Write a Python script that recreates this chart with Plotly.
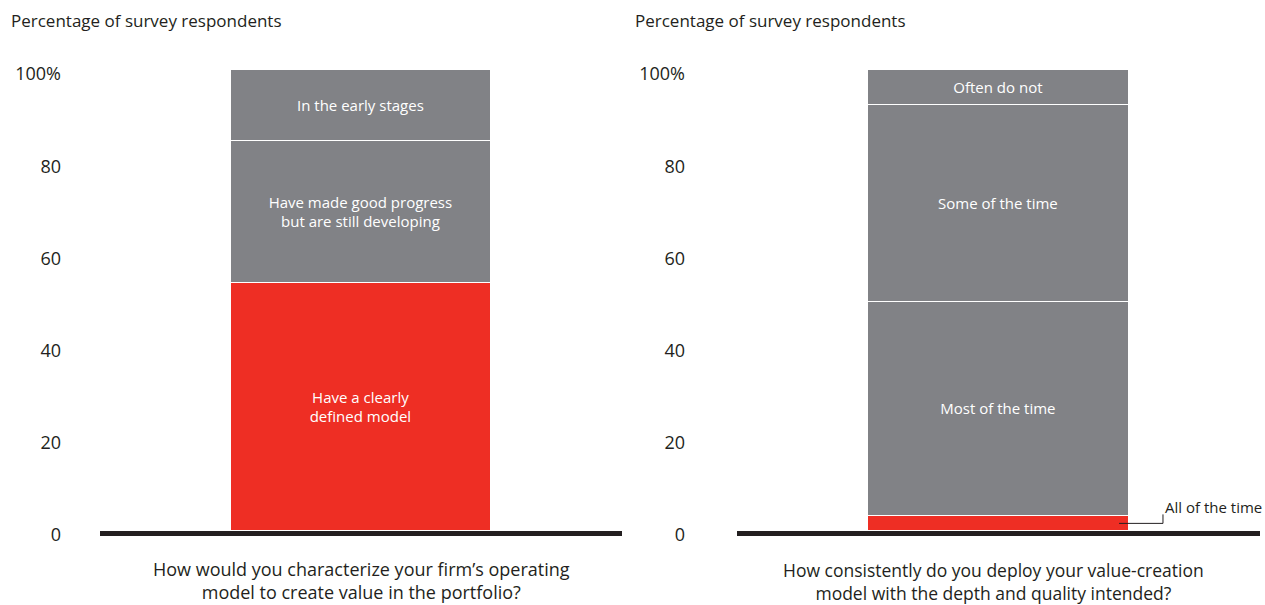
import plotly.graph_objects as go

# ---- data ----
left_segments = ["Have a clearly<br>defined model",
                 "Have made good progress<br>but are still developing",
                 "In the early stages"]
left_values = [53.7, 31.0, 15.3]
left_colors = ["#EE2E24", "#818286", "#818286"]

right_segments = ["All of the time", "Most of the time", "Some of the time", "Often do not"]
right_values = [3.3, 46.4, 42.8, 7.5]
right_colors = ["#EE2E24", "#818286", "#818286", "#818286"]

tick_vals = [0, 20, 40, 60, 80, 100]
tick_text = ["0", "20", "40", "60", "80", "100%"]

y_title = "Percentage of survey respondents"
left_question = "How would you characterize your firm’s operating<br>model to create value in the portfolio?"
right_question = "How consistently do you deploy your value-creation<br>model with the depth and quality intended?"

FONT = "'Open Sans', 'Noto Sans', sans-serif"
DARK = "#231F20"
W, H = 1265, 605

fig = go.Figure()

for lab, val, col in zip(left_segments, left_values, left_colors):
    fig.add_trace(go.Bar(
        x=[0], y=[val], width=0.996, marker=dict(color=col, line=dict(color="white", width=1.2)),
        text=[lab], textposition="inside", insidetextanchor="middle", constraintext="none",
        textfont=dict(color="white", size=15, family=FONT), hoverinfo="skip",
        xaxis="x", yaxis="y", showlegend=False))

for i, (lab, val, col) in enumerate(zip(right_segments, right_values, right_colors)):
    txt = "" if i == 0 else lab
    fig.add_trace(go.Bar(
        x=[0], y=[val], width=0.998, marker=dict(color=col, line=dict(color="white", width=1.2)),
        text=[txt], textposition="inside", insidetextanchor="middle", constraintext="none",
        textfont=dict(color="white", size=15, family=FONT), hoverinfo="skip",
        xaxis="x2", yaxis="y2", showlegend=False))

def px_x(p):
    return p / W

ydom = [(H - 531) / H, (H - 70) / H]

common_x = dict(range=[-1, 1], showgrid=False, zeroline=False, showticklabels=False,
                showline=False, fixedrange=True, automargin=False)
common_y = dict(range=[0, 100], showgrid=False, zeroline=False, showline=False, tickmode="array",
                tickvals=tick_vals, ticktext=tick_text, ticks="", domain=ydom, automargin=False,
                tickfont=dict(size=18, color=DARK, family=FONT), ticklabelshift=4, fixedrange=True)

fig.update_layout(
    width=W, height=H, autosize=False, margin=dict(l=0, r=0, t=0, b=0, pad=0, autoexpand=False),
    paper_bgcolor="white", plot_bgcolor="white", barmode="stack", bargap=0,
    font=dict(family=FONT, color=DARK),
    xaxis=dict(domain=[px_x(100), px_x(622)], anchor="y", **common_x),
    yaxis=dict(anchor="x", ticklabelstandoff=38, **common_y),
    xaxis2=dict(domain=[px_x(737), px_x(1260)], anchor="y2", **common_x),
    yaxis2=dict(anchor="x2", ticklabelstandoff=51, **common_y),
)

# baselines (paper-referenced in y so they are not clipped)
for xr in ("x", "x2"):
    fig.add_shape(type="rect", xref=f"{xr} domain", yref="paper", ysizemode="pixel",
                  yanchor=ydom[0], x0=0, x1=1, y0=-5, y1=0, fillcolor=DARK,
                  line=dict(width=0), layer="above")

# y titles
fig.add_annotation(text=y_title, xref="paper", yref="paper", x=px_x(9), y=1 - 21 / H,
                   xanchor="left", yanchor="middle", showarrow=False, font=dict(size=17, color=DARK))
fig.add_annotation(text=y_title, xref="paper", yref="paper", x=px_x(633), y=1 - 21 / H,
                   xanchor="left", yanchor="middle", showarrow=False, font=dict(size=17, color=DARK))

# questions
fig.add_annotation(text=left_question, xref="x domain", yref="paper", x=0.5, y=1 - 580 / H,
                   xanchor="center", yanchor="middle", showarrow=False,
                   font=dict(size=18, color=DARK))
fig.add_annotation(text=right_question, xref="x2 domain", yref="paper", x=0.49, y=1 - 581 / H,
                   xanchor="center", yanchor="middle", showarrow=False,
                   font=dict(size=17.5, color=DARK))

# callout for "All of the time"
red_mid = right_values[0] / 2
fig.add_shape(type="path", xref="x2", yref="y2",
              path=f"M 0.461 {red_mid} L 0.629 {red_mid} L 0.629 3.6",
              line=dict(color=DARK, width=1), layer="above")
fig.add_annotation(text=right_segments[0], xref="x2", yref="y2", x=0.629, y=5.3,
                   xanchor="left", yanchor="middle", xshift=0, showarrow=False,
                   font=dict(size=15, color=DARK))

fig.write_html("out.html", post_script="document.body.style.margin='0';",
               config={"displayModeBar": False})
